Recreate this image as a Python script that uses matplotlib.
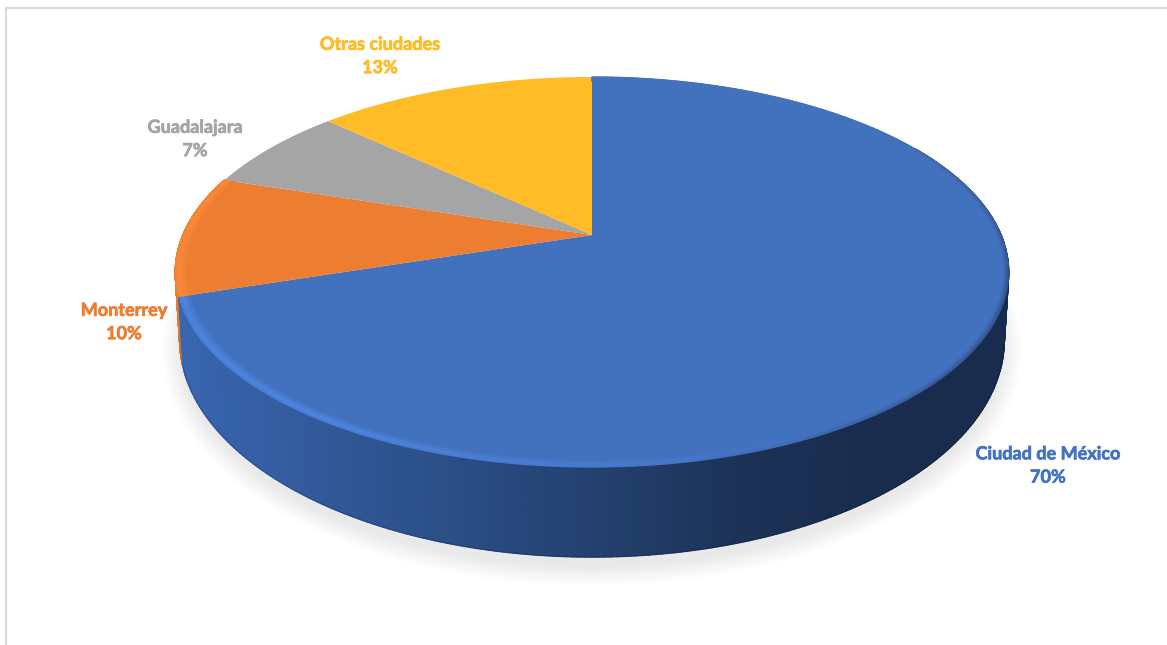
import numpy as np
import matplotlib
matplotlib.use('Agg')
import matplotlib.pyplot as plt
from matplotlib.collections import LineCollection, PolyCollection
from matplotlib.colors import to_rgb
import matplotlib.patheffects as pe

# Pie data
ciudades = ['Ciudad de México', 'Monterrey', 'Guadalajara', 'Otras ciudades']
porcentajes = [70, 10, 7, 13]

# Slice and label colours
colores = ['#4271BE', '#ED7D31', '#A5A5A5', '#FFBC27']
colores_texto = ['#4472C4', '#ED7D31', '#A5A5A5', '#FFBC27']
pos_etiquetas = [(1048, 465.5), (124, 322), (195, 139), (380, 56)]

# Perspective of the disc, in pixels
CX = 592
K = 0.1897
TOP = dict(apex=235, ax=409, by=188)
BOTTOM = dict(apex=299, ax=404.6, by=209)


def proyecta(theta, r, plano):
    # theta runs clockwise from 12 o'clock
    d = 1 + K * r * np.cos(theta)
    x = CX + plano['ax'] * r * np.sin(theta) / d
    y = plano['apex'] - plano['by'] * r * np.cos(theta) / d
    return x, y


def mezcla(c1, c2, t):
    return tuple(np.array(c1) * (1 - t) + np.array(c2) * t)


fig = plt.figure(figsize=(11.67, 6.45), dpi=100, facecolor='white')
ax = fig.add_axes([0, 0, 1, 1])
ax.set_xlim(0, 1167)
ax.set_ylim(645, 0)
ax.axis('off')

# Chart frame, only top and left are visible
ax.plot([6, 6, 1167], [645, 8, 8], color='#D9D9D9', lw=1.5, solid_joinstyle='miter')

# Soft shadow under the disc
t_sombra = np.linspace(0, 2 * np.pi, 300)
for d in np.linspace(20, 0, 22):
    ax.fill(CX + (410 + d) * np.cos(t_sombra), 350 + (216 + d) * np.sin(t_sombra),
            color='black', alpha=0.0045, lw=0, zorder=1)

# Slice limits in radians
limites = np.radians(np.cumsum([0] + porcentajes) * 3.6)


# Side wall, shaded by horizontal position
def color_lateral(x, i):
    if i == 1:
        return to_rgb('#E87B30')
    xs = [180, 300, 450, 600, 740, 860, 1010]
    rs = [0x39, 0x33, 0x2B, 0x23, 0x1C, 0x19, 0x19]
    gs = [0x66, 0x5A, 0x4E, 0x40, 0x32, 0x2C, 0x2C]
    bs = [0xB0, 0x9C, 0x86, 0x6E, 0x56, 0x4E, 0x4E]
    return (np.interp(x, xs, rs) / 255, np.interp(x, xs, gs) / 255, np.interp(x, xs, bs) / 255)


for i in [1, 0]:
    ini = max(limites[i], np.radians(60))
    ts = np.linspace(ini, limites[i + 1], 260)
    quads, cols = [], []
    for a, b in zip(ts[:-1], ts[1:]):
        x1, y1 = proyecta(a, 1, TOP)
        x2, y2 = proyecta(b, 1, TOP)
        x3, y3 = proyecta(b, 1, BOTTOM)
        x4, y4 = proyecta(a, 1, BOTTOM)
        quads.append([(x1, y1), (x2, y2), (x3, y3), (x4, y4)])
        cols.append(color_lateral((x1 + x2) / 2, i))
    ax.add_collection(PolyCollection(quads, facecolors=cols, edgecolors=cols, linewidths=1.2, zorder=2))
    # darker line along the lower edge
    xb, yb = proyecta(ts, 1, BOTTOM)
    segs = np.column_stack([xb, yb])
    tonos = [mezcla(color_lateral(x, i), (0, 0, 0.1), 0.2) for x in xb[:-1]]
    ax.add_collection(LineCollection(np.stack([segs[:-1], segs[1:]], axis=1), colors=tonos, linewidths=0.6, zorder=2))

# Top faces
for i, color in enumerate(colores):
    ts = np.linspace(limites[i], limites[i + 1], 200)
    xs, ys = proyecta(ts, 1, TOP)
    ax.fill(np.r_[CX, xs], np.r_[TOP['apex'], ys], color=color, lw=0, zorder=3)


# Bevel along the rim of the blue and orange slices
def bevel(i, claro, oscuro):
    base = to_rgb(colores[i])
    ts = np.linspace(limites[i], limites[i + 1], 300)
    radios = np.linspace(1.0, 0.97, 13)
    segs, cols = [], []
    for r in radios:
        xs, ys = proyecta(ts, r, TOP)
        pts = np.column_stack([xs, ys])
        for j in range(len(ts) - 1):
            th = np.degrees(ts[j])
            luz = np.clip((th - 150) / 60, 0, 1)
            sombra = 0.8 * np.clip((170 - th) / 50, 0, 1) * np.clip((th - 50) / 50, 0, 1)
            u = (1 - r) / 0.03
            # peak of the highlight sits a little inside the edge
            pico = np.clip(1 - abs(u - 0.3) / 0.7, 0, 1)
            c = mezcla(base, claro, luz * pico)
            c = mezcla(c, oscuro, sombra * np.clip(1 - u / 0.45, 0, 1))
            segs.append([pts[j], pts[j + 1]])
            cols.append(c)
    ax.add_collection(LineCollection(segs, colors=cols, linewidths=0.9, capstyle='round', zorder=4))


bevel(0, to_rgb('#4F86E2'), to_rgb('#2A4A80'))
bevel(1, to_rgb('#FB8A3A'), to_rgb('#ED7D31'))

# Labels: name and percentage on two lines
for nombre, valor, color, (x, y) in zip(ciudades, porcentajes, colores_texto, pos_etiquetas):
    ax.text(x, y, f'{nombre}\n{valor}%', color=color, ha='center', va='center', fontsize=13,
            fontfamily='Lato', fontweight='bold', linespacing=1.45, zorder=6,
            path_effects=[pe.withStroke(linewidth=0.5, foreground=color)])

fig.savefig('out.png', dpi=100)
